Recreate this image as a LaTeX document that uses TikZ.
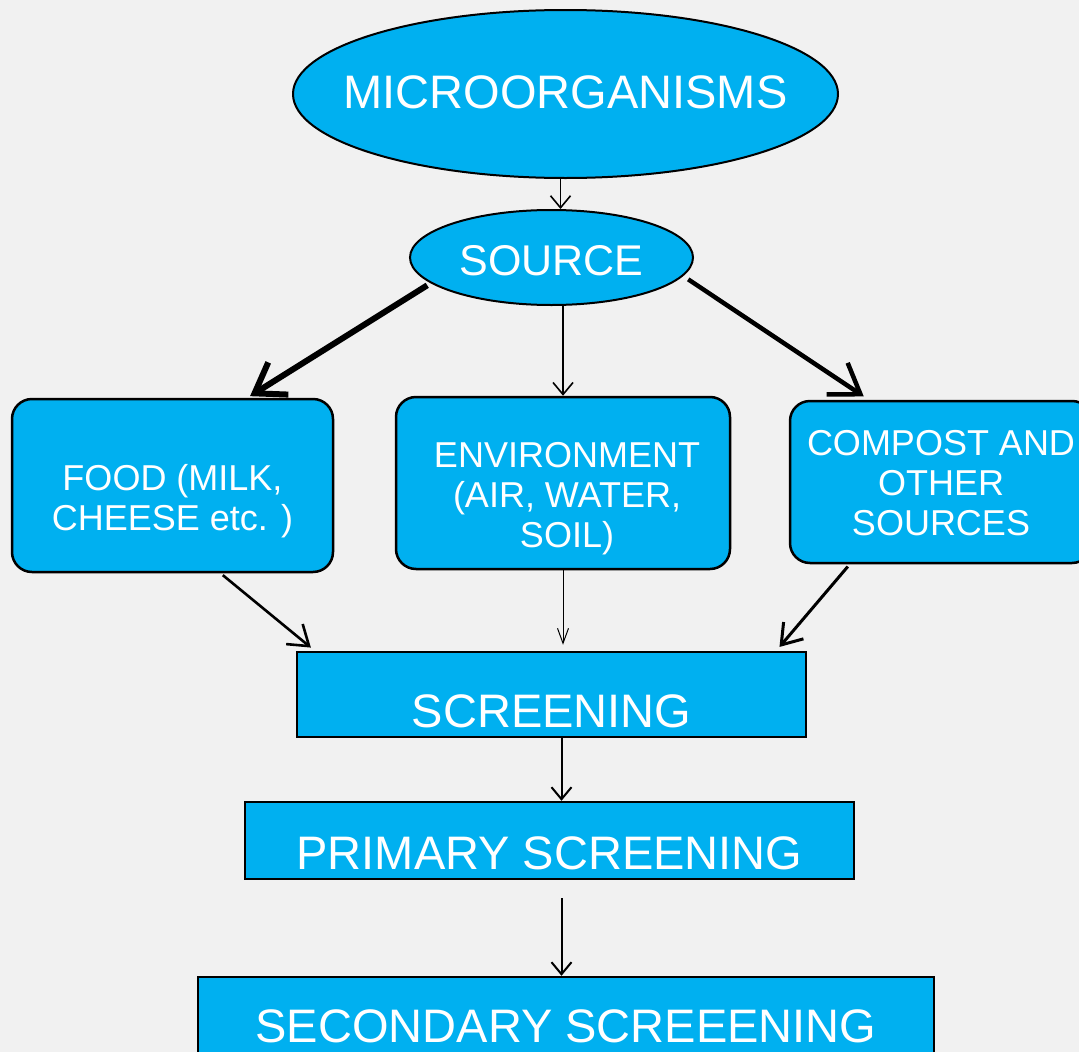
\documentclass[tikz,border=0pt]{standalone}
\usepackage{fontspec}
\setmainfont{Liberation Sans}
\usetikzlibrary{arrows.meta,shapes.geometric}
\definecolor{slideblue}{RGB}{0,176,240}
\definecolor{slidebg}{RGB}{241,241,241}

\begin{document}
\begin{tikzpicture}[x=1pt,y=-1pt,
   oval/.style={ellipse, draw=black, line width=2pt, fill=slideblue, inner sep=0pt},
   ovallbl/.style={text=white, inner sep=0pt},
   srcbox/.style={rectangle, rounded corners=20pt, draw=black, line width=2.5pt, fill=slideblue, inner sep=0pt},
   srclbl/.style={text=white, align=center, inner sep=0pt, font=\fontsize{36}{40}\selectfont},
   stepbox/.style={rectangle, draw=black, line width=2.5pt, fill=slideblue, text=white, inner sep=0pt, anchor=base, font=\fontsize{47}{50}\selectfont},
   thinarr/.style={-{Straight Barb[length=12pt,width=20pt]}, line width=1.6pt},
   hairarr/.style={-{Straight Barb[length=15pt,width=11pt]}, line width=1pt},
   midarr/.style={-{Straight Barb[length=19pt,width=26pt]}, line width=2.6pt},
   thickarr/.style={-{Straight Barb[length=28pt,width=38pt]}, line width=6pt}]

   \clip (0,0) rectangle (1079,1052);
   \fill [slidebg] (0,0) rectangle (1079,1052);

   \node (micro) at (565.5,94) [oval, minimum width=545pt, minimum height=168pt,
      label={[ovallbl, yshift=2pt, font=\fontsize{47}{50}\selectfont]center:MICROORGANISMS}] {};
   \node (source) at (551.5,257.5) [oval, minimum width=283pt, minimum height=95pt,
      label={[ovallbl, yshift=-3pt, font=\fontsize{43}{46}\selectfont]center:SOURCE}] {};

   \node (food) at (172.5,485.5) [srcbox, minimum width=321pt, minimum height=173pt,
      label={[srclbl, yshift=-16pt]center:{FOOD (MILK,\\CHEESE etc. )}}] {};
   \node (env) at (563,483) [srcbox, minimum width=334pt, minimum height=172pt,
      label={[srclbl, xshift=4pt, yshift=-16pt]center:{ENVIRONMENT\\(AIR, WATER,\\SOIL)}}] {};
   \node (compost) at (941,482) [srcbox, minimum width=302pt, minimum height=162pt,
      label={[srclbl, yshift=-1pt]center:{COMPOST AND\\OTHER\\SOURCES}}] {};

   \node (screen) at (551.5,727) [stepbox, minimum width=509pt, text height=75pt, text depth=10pt] {SCREENING};
   \node (primary) at (549.5,869) [stepbox, minimum width=609pt, text height=67pt, text depth=10pt] {PRIMARY SCREENING};
   \node (secondary) at (566,1042) [stepbox, minimum width=736pt, text height=65pt, text depth=30pt] {SECONDARY SCREEENING};

   \draw [thinarr] ([xshift=-5pt]micro.south) -- ([xshift=-5pt]micro.south |- source.north);
   \draw [thickarr, shorten <=4pt, shorten >=3pt] (source.192) -- ([xshift=75pt]food.north);
   \draw [thinarr] (env.north |- source.south) -- (env.north);
   \draw [thickarr, line width=4.5pt, shorten <=6pt, shorten >=6pt] (source.-8) -- ([xshift=80pt]compost.north west);

   \draw [midarr, shorten <=3pt, shorten >=5pt] ([xshift=48pt]food.south) -- ([xshift=19pt]screen.north west);
   \draw [hairarr, shorten >=6pt] (env.south) -- (screen.north -| env.south);
   \draw [midarr, line width=3pt, shorten <=3pt, shorten >=5pt] ([xshift=61pt]compost.south west) -- ([xshift=-31pt]screen.north east);

   \draw [thinarr, line width=2pt] ([xshift=10pt]screen.south) -- ([xshift=10pt]screen.south |- primary.north);
   \draw [thinarr, line width=2pt, shorten <=18pt] ([xshift=12pt]primary.south) -- ([xshift=12pt]primary.south |- secondary.north);

\end{tikzpicture}
\end{document}
